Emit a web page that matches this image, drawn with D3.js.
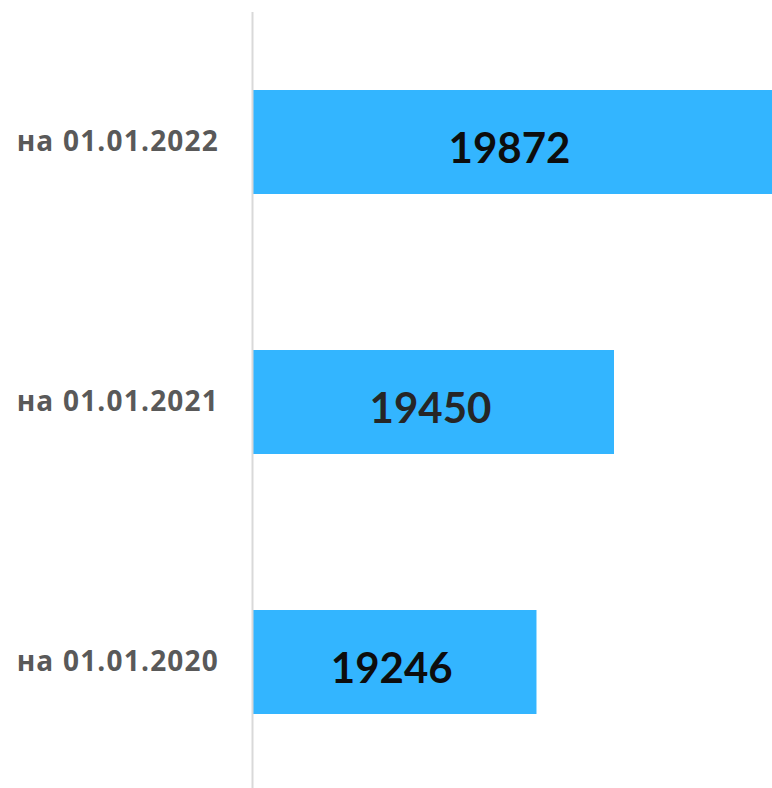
<!DOCTYPE html>
<html>
<head>
<meta charset="utf-8">
<script src="https://cdn.jsdelivr.net/npm/d3@7"></script>
<style>
  body { margin: 0; background: #fff; }
  svg { display: block; }
</style>
</head>
<body>
<svg id="chart"></svg>
<script>
// данные
var categories = ["на 01.01.2022", "на 01.01.2021", "на 01.01.2020"];
var values = [19872, 19450, 19246];
var valueColors = ["#0d0d0d", "#262626", "#0d0d0d"];

var width = 772, height = 788;
var left = 253;

var svg = d3.select("#chart")
  .attr("width", width)
  .attr("height", height);

// x axis starts at 18500, about 0.38 px per unit
var x = d3.scaleLinear()
  .domain([18500, 20500])
  .range([left, left + 760]);

var y = d3.scaleBand()
  .domain(categories)
  .range([12, 792])
  .paddingInner(0.6)
  .paddingOuter(0.3);

svg.selectAll("rect.bar")
  .data(values)
  .enter()
  .append("rect")
  .attr("class", "bar")
  .attr("x", x(18500))
  .attr("y", function(d, i) { return y(categories[i]); })
  .attr("width", function(d) { return x(d) - x(18500); })
  .attr("height", y.bandwidth())
  .attr("fill", "#33b5ff");

// vertical axis line
svg.append("line")
  .attr("x1", left - 0.5).attr("x2", left - 0.5)
  .attr("y1", 12).attr("y2", height)
  .attr("stroke", "#d9d9d9")
  .attr("stroke-width", 2);

// category labels
svg.selectAll("text.cat")
  .data(categories)
  .enter()
  .append("text")
  .attr("class", "cat")
  .attr("x", 219)
  .attr("y", function(d) { return y(d) + y.bandwidth() / 2 + 2; })
  .attr("text-anchor", "end")
  .attr("dominant-baseline", "middle")
  .attr("font-family", "'Open Sans', sans-serif")
  .attr("font-weight", 700)
  .attr("font-size", 28)
  .attr("letter-spacing", 1.2)
  .attr("fill", "#595959")
  .text(function(d) { return d; });

// value labels
svg.selectAll("text.val")
  .data(values)
  .enter()
  .append("text")
  .attr("class", "val")
  .attr("x", function(d) { return (left + Math.min(x(d), width)) / 2 - 3; })
  .attr("y", function(d, i) { return y(categories[i]) + y.bandwidth() / 2 + 21; })
  .attr("text-anchor", "middle")
  .attr("font-family", "Lato, sans-serif")
  .attr("font-weight", 700)
  .attr("font-size", 42)
  .attr("fill", function(d, i) { return valueColors[i]; })
  .text(function(d) { return d; });
</script>
</body>
</html>
